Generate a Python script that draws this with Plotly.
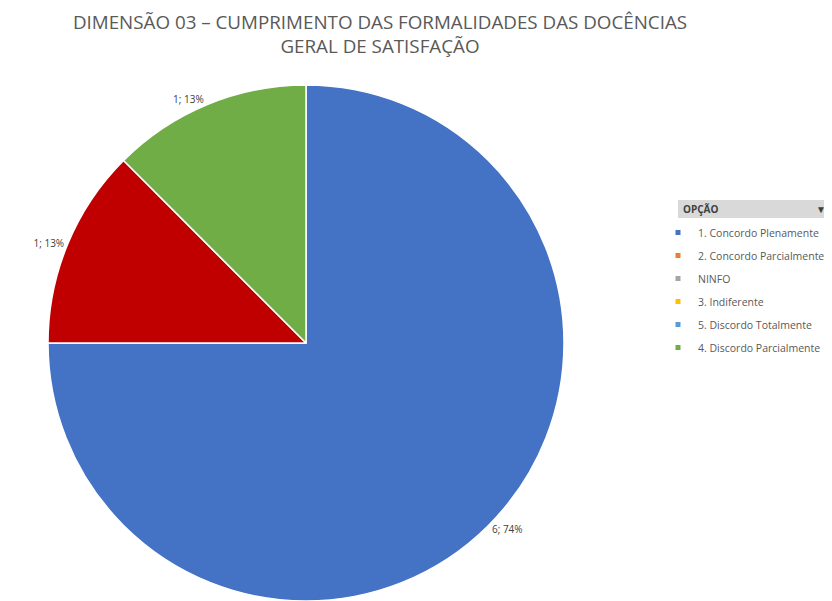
import plotly.graph_objects as go

title_lines = ["DIMENSÃO 03 – CUMPRIMENTO DAS FORMALIDADES DAS DOCÊNCIAS", "GERAL DE SATISFAÇÃO"]

slice_labels = ["1. Concordo Plenamente", "5. Discordo Totalmente", "4. Discordo Parcialmente"]
slice_values = [6, 1, 1]
slice_pct = [74, 13, 13]
slice_colors = ["#4472C4", "#C00000", "#70AD47"]

legend_title = "OPÇÃO"
legend_labels = ["1. Concordo Plenamente", "2. Concordo Parcialmente", "NINFO",
                 "3. Indiferente", "5. Discordo Totalmente", "4. Discordo Parcialmente"]
legend_colors = ["#4472C4", "#ED7D31", "#A5A5A5", "#FFC000", "#5B9BD5", "#70AD47"]

# page body has an 8px default margin, so the figure is sized to fill the rest of the window
W, H = 824, 593


def fx(px):
    return px / W


def fy(px):
    return 1 - px / H


fig = go.Figure()
fig.add_trace(go.Pie(
    labels=slice_labels, values=slice_values,
    text=[f"{v}; {p}%" for v, p in zip(slice_values, slice_pct)],
    textinfo="text", textposition="outside",
    textfont=dict(size=10, color="#404040", family="Open Sans"),
    marker=dict(colors=slice_colors, line=dict(color="white", width=1.5)),
    sort=False, direction="clockwise", rotation=0,
    showlegend=False, hoverinfo="label+value+percent",
    domain=dict(x=[fx(22), fx(574)], y=[0, fy(77)]),
))

for i, (lab, col) in enumerate(zip(legend_labels, legend_colors)):
    fig.add_trace(go.Scatter(
        x=[None], y=[None], mode="markers", name=lab,
        marker=dict(symbol="square", size=5, color=col),
        legendgroup=f"g{i}", showlegend=True,
    ))

fig.update_layout(
    width=W, height=H,
    margin=dict(l=0, r=0, t=0, b=0, autoexpand=False),
    paper_bgcolor="white", plot_bgcolor="white",
    title=dict(text="<br>".join(title_lines), x=fx(372), xanchor="center", y=fy(21), yanchor="top",
               font=dict(family="Open Sans", size=18.8, color="#595959")),
    xaxis=dict(visible=False), yaxis=dict(visible=False),
    legend=dict(
        x=fx(650), xanchor="left", y=fy(210), yanchor="top",
        font=dict(size=10.5, color="#595959", family="Open Sans"),
        tracegroupgap=4, itemwidth=30, bgcolor="rgba(0,0,0,0)",
    ),
    shapes=[dict(type="rect", xref="paper", yref="paper",
                 x0=fx(670), x1=fx(822), y0=fy(210), y1=fy(192),
                 fillcolor="#D9D9D9", line=dict(width=0), layer="below")],
    annotations=[
        dict(text=f"<b>{legend_title}</b>", xref="paper", yref="paper", x=fx(673), y=fy(201),
             xanchor="left", yanchor="middle", showarrow=False,
             font=dict(size=10, color="#404040", family="Open Sans")),
        dict(text="▼", xref="paper", yref="paper", x=fx(820), y=fy(201),
             xanchor="right", yanchor="middle", showarrow=False,
             font=dict(size=10, color="#404040")),
    ],
)

fig.write_html("out.html")
